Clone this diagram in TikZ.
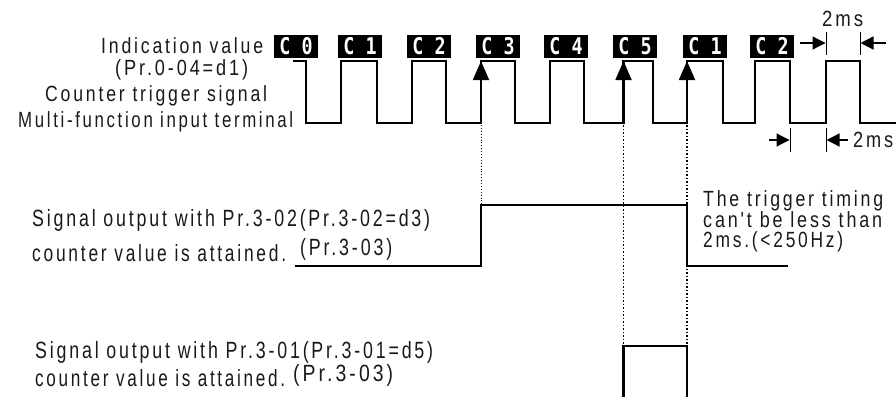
\documentclass[tikz,border=0pt]{standalone}
\usepackage{fontspec}
\setmainfont{Liberation Sans}
\newfontfamily\lab[FakeStretch=0.76,LetterSpace=12]{Liberation Sans}
\newfontfamily\seg[FakeStretch=0.8]{DejaVu Sans Mono}
\usetikzlibrary{arrows.meta}
\newlength\fitl
\newcommand\fitw[2]{\settowidth\fitl{#2}\pgfmathsetmacro\fitsc{#1/\fitl}\scalebox{\fitsc}[1]{#2}}
\begin{document}
\begin{tikzpicture}[x=1pt,y=-1pt,
  sig/.style={line width=2.3pt, line join=miter},
  lbl/.style={font=\lab\fontsize{22}{24}\selectfont, inner sep=0pt, anchor=base west, text=black!90},
  big/.style={lbl, font=\lab\fontsize{23.5}{26}\selectfont},
  segbox/.style={fill=black, text=white, minimum width=44pt, minimum height=23pt, inner sep=0pt, font=\seg\bfseries\fontsize{23}{23}\selectfont},
  uparr/.style={line width=1.8pt, -{Triangle[length=19pt,width=16pt]}},
  dimarr/.style={line width=1.3pt, -{Triangle[length=13pt,width=13pt]}},
  tick/.style={line width=0.8pt},
  dotA/.style={line width=0.9pt, dash pattern=on 0.9pt off 2pt},
  dotB/.style={line width=1.5pt, dash pattern=on 1.5pt off 2pt}]
\useasboundingbox (0,0) rectangle (896,396);

% labels left top
\node[lbl] (t1) at (101,54) {\fitw{162}{Indication value}};
\node[lbl] (t2) at (115,75) {\fitw{133}{(Pr.0-04=d1)}};
\node[lbl] (t3) at (45,101) {\fitw{222}{Counter trigger signal}};
\node[lbl] (t4) at (18,127) {\fitw{275}{Multi-function input terminal}};

% indication boxes
\node[segbox] (b0) at (296,46.5) {C 0};
\node[segbox] (b1) at (360,46.5) {C 1};
\node[segbox] (b2) at (429,46.5) {C 2};
\node[segbox] (b3) at (498,46.5) {C 3};
\node[segbox] (b4) at (566,46.5) {C 4};
\node[segbox] (b5) at (635,46.5) {C 5};
\node[segbox] (b6) at (705,46.5) {C 1};
\node[segbox] (b7) at (772,46.5) {C 2};

% trigger signal
\draw[sig] (293,61) -- (306,61) -- (306,123) -- (341,123) -- (341,61) -- (377,61) -- (377,123)
  -- (412,123) -- (412,61) -- (446,61) -- (446,123) -- (481,123) -- (481,61) -- (515,61)
  -- (515,123) -- (550,123) -- (550,61) -- (584,61) -- (584,123) -- (623.5,123) -- (623.5,61)
  -- (653,61) -- (653,123) -- (687,123) -- (687,61) -- (723,61) -- (723,123) -- (755,123)
  -- (755,61) -- (790,61) -- (790,123) -- (826,123) -- (826,61) -- (860,61) -- (860,123) -- (896,123);

% count arrows
\coordinate (a1) at (481,123); \coordinate (a1t) at (481,61);
\coordinate (a2) at (623.5,123); \coordinate (a2t) at (623.5,61);
\coordinate (a3) at (687,123); \coordinate (a3t) at (687,61);
\draw[uparr] (a1) -- (a1t);
\draw[uparr] (a2) -- (a2t);
\draw[uparr] (a3) -- (a3t);

% dotted guides
\draw[dotA] (481,125) -- (481,204);
\draw[dotB] (623.5,125) -- (623.5,345);
\draw[dotB] (687,125) -- (687,345);

% 2ms top
\draw[tick] (826,32) -- (826,55);
\draw[tick] (860,32) -- (860,55);
\draw[dimarr] (800,43) -- (825.5,43);
\draw[dimarr] (886,43) -- (860.5,43);
\node[lbl] (ms1) at (822,27) {\fitw{41}{2ms}};

% 2ms bottom
\draw[tick] (790,128) -- (790,152);
\draw[tick] (826,128) -- (826,152);
\draw[dimarr] (769,140) -- (789.5,140);
\draw[dimarr] (848,140) -- (826.5,140);
\node[lbl] (ms2) at (853,147) {\fitw{40}{2ms}};

% output Pr.3-02
\node[big] (s1) at (32,226) {\fitw{398}{Signal output with Pr.3-02(Pr.3-02=d3)}};
\node[big] (s2) at (32,261) {\fitw{254}{counter value is attained.}};
\node[big] (s3) at (300,255) {\fitw{92}{(Pr.3-03)}};
\draw[sig] (295,266) -- (481,266) -- (481,205) -- (687,205) -- (687,266) -- (788,266);

% note
\node[lbl] (n1) at (703,206) {\fitw{180}{The trigger timing}};
\node[lbl] (n2) at (703,227) {\fitw{179}{can't be less than}};
\node[lbl] (n3) at (703,247) {\fitw{140}{2ms.(<250Hz)}};

% output Pr.3-01
\node[big] (u1) at (35,358) {\fitw{398}{Signal output with Pr.3-01(Pr.3-01=d5)}};
\node[big] (u2) at (35,386) {\fitw{250}{counter value is attained.}};
\node[big] (u3) at (293,381) {\fitw{100}{(Pr.3-03)}};
\draw[sig] (623.5,398) -- (623.5,346) -- (687,346) -- (687,398);
\end{tikzpicture}
\end{document}
